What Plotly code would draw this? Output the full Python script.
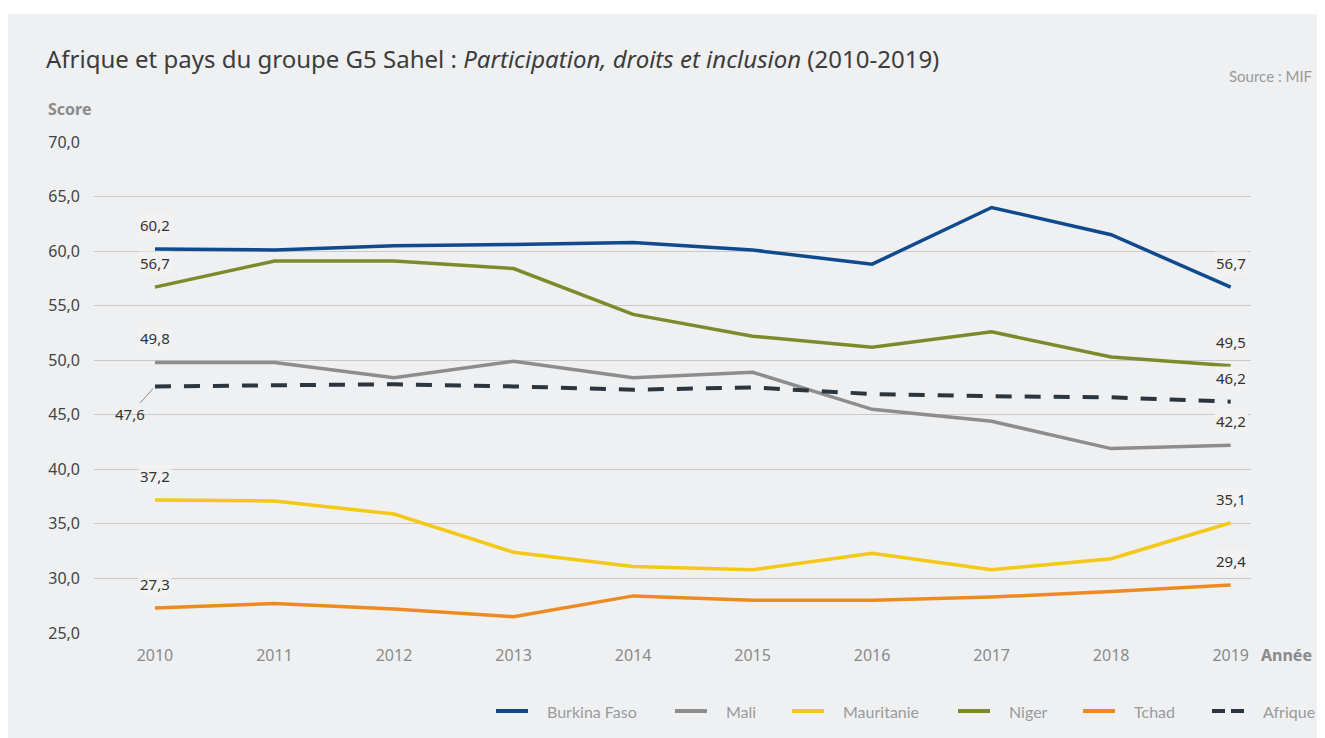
import plotly.graph_objects as go

YEARS = [2010, 2011, 2012, 2013, 2014, 2015, 2016, 2017, 2018, 2019]

BURKINA = [60.2, 60.1, 60.5, 60.6, 60.8, 60.1, 58.8, 64.0, 61.5, 56.7]
MALI = [49.8, 49.8, 48.4, 49.9, 48.4, 48.9, 45.5, 44.4, 41.9, 42.2]
MAURITANIE = [37.2, 37.1, 35.9, 32.4, 31.1, 30.8, 32.3, 30.8, 31.8, 35.1]
NIGER = [56.7, 59.1, 59.1, 58.4, 54.2, 52.2, 51.2, 52.6, 50.3, 49.5]
TCHAD = [27.3, 27.7, 27.2, 26.5, 28.4, 28.0, 28.0, 28.3, 28.8, 29.4]
AFRIQUE = [47.6, 47.7, 47.8, 47.6, 47.3, 47.5, 46.9, 46.7, 46.6, 46.2]

Y_TICKS = [25, 30, 35, 40, 45, 50, 55, 60, 65, 70]

SERIES = [
    ("Burkina Faso", BURKINA, "#0f4a8f", "solid"),
    ("Mali", MALI, "#8d8d8d", "solid"),
    ("Mauritanie", MAURITANIE, "#f3c816", "solid"),
    ("Niger", NIGER, "#7b8b2c", "solid"),
    ("Tchad", TCHAD, "#ee8a22", "solid"),
    ("Afrique", AFRIQUE, "#2b3540", "16px,13px"),
]

FONT = "Noto Sans, Open Sans, sans-serif"
PANEL = "#eff0f2"

# the page body has an 8px margin, so the figure is sized to fit the window
W, H = 1317, 730
PLOT_L, PLOT_R, PLOT_T, PLOT_B = 86, 1243, 134, 625


def px_x(x):
    # window x pixel -> paper x
    return (x - 8 - PLOT_L) / (PLOT_R - PLOT_L)


def px_y(y):
    # window y pixel -> paper y
    return (PLOT_B - (y - 8)) / (PLOT_B - PLOT_T)


fig = go.Figure()

for name, values, color, dash in SERIES:
    fig.add_trace(
        go.Scatter(
            x=YEARS,
            y=values,
            mode="lines",
            name=name,
            showlegend=False,
            line={"color": color, "width": 4 if dash != "solid" else 3.5, "dash": dash},
        )
    )

# value labels at the first and last year
label_font = {"family": FONT, "size": 15, "color": "#333333"}
for name, values, color, dash in SERIES:
    for i in (0, len(YEARS) - 1):
        text = f"{values[i]:.1f}".replace(".", ",")
        if name == "Afrique" and i == 0:
            fig.add_annotation(
                x=YEARS[i], y=values[i], text=text, font=label_font,
                showarrow=True, arrowhead=0, arrowwidth=1, arrowcolor="#8a8a8a",
                ax=-25, ay=28, standoff=3,
            )
        else:
            fig.add_annotation(
                x=YEARS[i], y=values[i], text=text, font=label_font,
                showarrow=False, yshift=24, bgcolor="rgba(242,242,243,0.9)",
            )

# light panel behind the chart
fig.add_shape(
    type="rect", xref="paper", yref="paper",
    x0=px_x(8), x1=px_x(1340), y0=px_y(760), y1=px_y(14),
    fillcolor=PANEL, line={"width": 0}, layer="below",
)

fig.add_annotation(
    xref="paper", yref="paper", x=px_x(46), y=px_y(109), xanchor="left", yanchor="middle",
    text="<b>Score</b>", showarrow=False, font={"family": FONT, "size": 16, "color": "#8a8a8a"},
)
fig.add_annotation(
    xref="paper", yref="paper", x=px_x(1259), y=px_y(655), xanchor="left", yanchor="middle",
    text="<b>Année</b>", showarrow=False, font={"family": FONT, "size": 16, "color": "#8a8a8a"},
)
fig.add_annotation(
    xref="paper", yref="paper", x=px_x(1314), y=px_y(76), xanchor="right", yanchor="middle",
    text="Source : MIF", showarrow=False, font={"family": "Lato, sans-serif", "size": 15, "color": "#999999"},
)

# hand-drawn legend along the bottom
LEGEND_X = [496, 675, 792, 958, 1083, 1212]
legend_y = px_y(711)
for (name, values, color, dash), lx in zip(SERIES, LEGEND_X):
    fig.add_shape(
        type="line", xref="paper", yref="paper",
        x0=px_x(lx), x1=px_x(lx + 32), y0=legend_y, y1=legend_y,
        line={"color": color, "width": 4, "dash": "solid" if dash == "solid" else "13px,6px"},
    )
    fig.add_annotation(
        xref="paper", yref="paper", x=px_x(lx + 49), y=legend_y, xanchor="left", yanchor="middle",
        text=name, showarrow=False, font={"family": "Lato, sans-serif", "size": 16, "color": "#9a9a9a"},
    )

fig.update_layout(
    width=W,
    height=H,
    title={
        "text": "Afrique et pays du groupe G5 Sahel : <i>Participation, droits et inclusion</i> (2010-2019)",
        "x": (46 - 8) / W,
        "xanchor": "left",
        "y": 1 - (60 - 8) / H,
        "yanchor": "middle",
        "font": {"family": FONT, "size": 24, "color": "#3c3c3c"},
    },
    separators=",.",
    paper_bgcolor="#ffffff",
    plot_bgcolor=PANEL,
    margin={"l": PLOT_L, "r": W - PLOT_R, "t": PLOT_T, "b": H - PLOT_B},
    showlegend=False,
    xaxis={
        "range": [2009.49, 2019.17],
        "tickvals": YEARS,
        "showgrid": False,
        "zeroline": False,
        "showline": False,
        "ticks": "",
        "ticklabelstandoff": 11,
        "tickfont": {"family": FONT, "size": 16, "color": "#8a8a8a"},
    },
    yaxis={
        "range": [25, 70],
        "tickvals": Y_TICKS,
        "tickformat": ".1f",
        "showgrid": True,
        "gridcolor": "#c9c9c9",
        "gridwidth": 1,
        "zeroline": False,
        "showline": False,
        "ticks": "",
        "ticklabelstandoff": 13,
        "tickfont": {"family": FONT, "size": 16, "color": "#444444"},
    },
)

fig.write_html("out.html")
